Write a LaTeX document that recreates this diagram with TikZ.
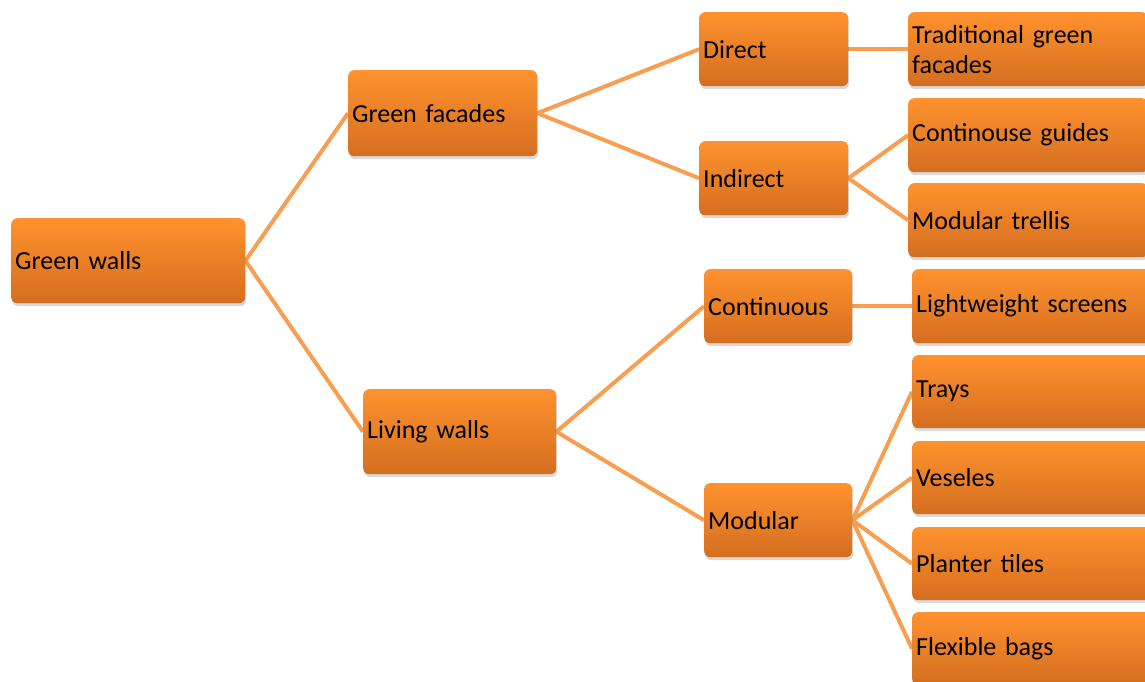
\documentclass[tikz,border=0pt]{standalone}
\usepackage{fontspec}
\setmainfont{Carlito}
\usetikzlibrary{shadows,backgrounds}
\definecolor{boxtop}{RGB}{255,146,46}
\definecolor{boxbottom}{RGB}{212,110,32}
\definecolor{linkcolor}{RGB}{247,158,80}
\begin{document}
\begin{tikzpicture}[
  x=1pt,y=-1pt,
  box/.style={anchor=north west,rounded corners=6pt,top color=boxtop,bottom color=boxbottom,
    drop shadow={shadow xshift=1pt,shadow yshift=-3pt,opacity=0.3},
    inner xsep=4pt,inner ysep=0pt,align=left,minimum height=74pt,
    font=\fontsize{26}{30}\selectfont},
  link/.style={draw=linkcolor,line width=4pt},
  ]
  \useasboundingbox (0,0) rectangle (1145,682);
  \clip (0,0) rectangle (1145,682);
  % level 1 and 2
  \node[box,text width=226pt,minimum height=85pt] (gwalls) at (11,218) {Green walls};
  \node[box,text width=181pt,minimum height=86pt] (gfacades) at (348,70) {Green facades};
  \node[box,text width=185pt,minimum height=85pt] (lwalls) at (363,389) {Living walls};
  % level 3
  \node[box,text width=141pt] (direct) at (699,12) {Direct};
  \node[box,text width=141pt] (indirect) at (699,141) {Indirect};
  \node[box,text width=140pt] (continuous) at (704,269) {Continuous};
  \node[box,text width=140pt] (modular) at (704,483) {Modular};
  % level 4
  \node[box,text width=232pt] (traditional) at (908,12) {Traditional green\\facades};
  \node[box,text width=232pt] (guides) at (908,98) {Continouse guides};
  \node[box,text width=232pt] (trellis) at (908,183) {Modular trellis};
  \node[box,text width=232pt] (screens) at (912,269) {Lightweight screens};
  \node[box,text width=232pt,minimum height=73pt] (trays) at (912,355) {Trays};
  \node[box,text width=232pt,minimum height=73pt] (veseles) at (912,441) {Veseles};
  \node[box,text width=232pt,minimum height=73pt] (tiles) at (912,527) {Planter tiles};
  \node[box,text width=232pt,minimum height=73pt] (bags) at (912,612) {Flexible bags};
  \begin{scope}[on background layer]
    \foreach \from/\to in {gwalls/gfacades,gwalls/lwalls,gfacades/direct,gfacades/indirect,
      lwalls/continuous,lwalls/modular,direct/traditional,indirect/guides,indirect/trellis,
      continuous/screens,modular/trays,modular/veseles,modular/tiles,modular/bags}
      \draw[link] (\from.east) -- (\to.west);
  \end{scope}
\end{tikzpicture}
\end{document}
